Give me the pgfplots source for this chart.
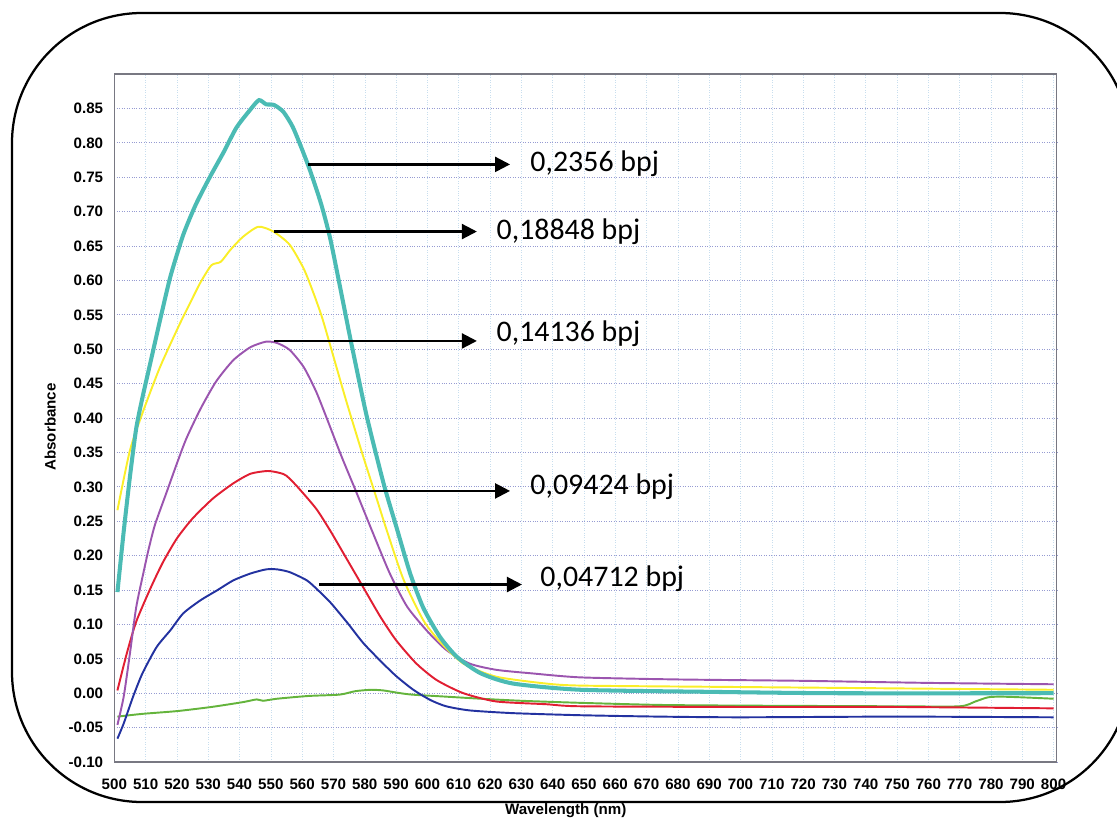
\documentclass[border=0pt]{standalone}
\usepackage{pgfplots}
\pgfplotsset{compat=1.18}
\usepackage{fontspec}
\setmainfont{Liberation Sans}
\newfontfamily\calibri{Carlito}
\usetikzlibrary{arrows.meta}

\definecolor{cteal}{RGB}{75,187,180}
\definecolor{cyellow}{RGB}{250,238,40}
\definecolor{cpurple}{RGB}{155,85,175}
\definecolor{cred}{RGB}{225,30,50}
\definecolor{cblue}{RGB}{35,50,160}
\definecolor{cgreen}{RGB}{100,180,60}
\definecolor{hgrid}{RGB}{150,155,210}
\definecolor{vgrid}{RGB}{200,222,238}
\definecolor{frame}{RGB}{120,120,130}

\begin{document}
\begin{tikzpicture}[x=0.2mm,y=-0.2mm]
\path[use as bounding box] (0,0) rectangle (1117,818);
\clip (0,0) rectangle (1117,818);
% rounded frame round the whole chart
\draw[line width=0.45mm, rounded corners=26mm] (12,13) rectangle (1130,802);

\begin{axis}[
    at={(22.86mm,-152.4mm)}, anchor=south west,
    scale only axis, width=188.48mm, height=137.6mm,
    xmin=500, xmax=801, ymin=-0.1, ymax=0.9,
    xtick={500,510,...,800},
    ytick={-0.10,-0.05,0,0.05,0.10,0.15,0.20,0.25,0.30,0.35,0.40,0.45,0.50,0.55,0.60,0.65,0.70,0.75,0.80,0.85},
    yticklabel style={/pgf/number format/fixed, /pgf/number format/fixed zerofill,
                      /pgf/number format/precision=2, xshift=-1mm},
    /pgf/number format/assume math mode=true,
    major tick length=0pt,
    grid=major,
    major x grid style={densely dotted, color=vgrid, line width=0.3pt},
    major y grid style={densely dotted, color=hgrid, line width=0.5pt},
    axis line style={draw=frame, line width=0.3mm},
    ticklabel style={font=\fontsize{8.6}{10}\selectfont\bfseries},
    xticklabel style={yshift=-2.2mm},
    xlabel={Wavelength (nm)}, ylabel={Absorbance},
    label style={font=\fontsize{8.6}{10}\selectfont\bfseries},
    xlabel style={at={(axis description cs:0.479,-0.07)}, anchor=center},
    ylabel style={at={(axis description cs:-0.068,0.487)}, anchor=center},
    every axis plot/.append style={smooth, tension=0.4},
]
% blank / reference
\addplot[cgreen, line width=1.1pt] coordinates {
(501,-0.034) (509,-0.030) (520,-0.026) (531,-0.020) (541,-0.013) (545.5,-0.009)
(547.5,-0.011) (552,-0.008) (562,-0.004) (572,-0.002) (577,0.003) (582,0.005)
(586,0.004) (590,0.001) (595,-0.002) (606,-0.005) (617,-0.008) (630,-0.011)
(649,-0.014) (674,-0.017) (700,-0.018) (750,-0.019) (770,-0.019) (775,-0.012)
(779,-0.006) (783,-0.005) (790,-0.006) (800,-0.008)};
% 0,04712 bpj
\addplot[cblue, line width=1.1pt] coordinates {
(501,-0.066) (503,-0.044) (506,-0.005) (509,0.029) (513.5,0.067) (518,0.092)
(522,0.116) (527.5,0.135) (533,0.150) (538,0.164) (543.5,0.174) (548.5,0.180)
(552,0.180) (556,0.176) (561.5,0.164) (565,0.150) (569,0.132) (574.5,0.102)
(579.5,0.073) (585,0.047) (590,0.025) (595.5,0.005) (601,-0.010) (606,-0.019)
(613.5,-0.025) (627.5,-0.029) (649,-0.032) (674,-0.034) (700,-0.035) (750,-0.034)
(800,-0.035)};
% 0,09424 bpj
\addplot[cred, line width=1.1pt] coordinates {
(501,0.004) (504,0.058) (507,0.104) (511.5,0.152) (515.5,0.190) (520,0.225)
(525,0.254) (531.5,0.283) (538,0.305) (543.5,0.319) (549,0.323) (553,0.320)
(555,0.316) (558.5,0.300) (564.5,0.268) (569,0.236) (574,0.197) (579.5,0.154)
(585,0.111) (590,0.077) (596.5,0.043) (603,0.019) (611.5,0.000) (622,-0.012)
(638,-0.016) (649,-0.019) (700,-0.020) (750,-0.020) (800,-0.022)};
% 0,14136 bpj
\addplot[cpurple, line width=1.1pt] coordinates {
(501,-0.046) (503,-0.005) (505,0.058) (507,0.125) (509.3,0.175) (511,0.21)
(513,0.245) (516.7,0.292) (520,0.334) (523,0.370) (527.5,0.413) (532.5,0.453)
(538,0.484) (543.5,0.503) (548.5,0.511) (552,0.509) (556,0.499) (560.5,0.474)
(564.5,0.438) (568,0.398) (572.5,0.345) (577.5,0.290) (582.5,0.234) (588,0.174)
(593.5,0.126) (600,0.090) (606,0.063) (613.5,0.043) (622,0.034) (633,0.029)
(649,0.023) (680,0.020) (720,0.018) (760,0.015) (800,0.013)};
% 0,18848 bpj
\addplot[cyellow, line width=1.1pt] coordinates {
(501,0.266) (505,0.353) (509.3,0.411) (514.6,0.474) (520,0.528) (522,0.547)
(524.2,0.567) (527.4,0.596) (531,0.622) (534,0.627) (537,0.644) (541,0.663)
(546,0.678) (550.8,0.671) (556,0.652) (560.5,0.617) (563.5,0.583) (566.3,0.547)
(569,0.505) (574,0.426) (579.5,0.344) (583.3,0.290) (587,0.237) (592.3,0.166)
(598.7,0.106) (604,0.075) (611.5,0.043) (622,0.024) (638,0.014) (650,0.011)
(700,0.009) (750,0.007) (800,0.005)};
% 0,2356 bpj
\addplot[cteal, line width=2.3pt] coordinates {
(501,0.147) (503,0.235) (505,0.315) (507,0.385) (509,0.430) (511,0.470)
(513,0.510) (515,0.550) (518,0.607) (522,0.666) (526,0.710) (530.5,0.750)
(535,0.787) (539,0.822) (543.4,0.848) (546.2,0.862) (548.5,0.856) (551,0.855)
(554,0.845) (557,0.823) (560,0.790) (562.5,0.760) (566,0.712) (569,0.660)
(573,0.570) (575.5,0.513) (580.5,0.405) (586,0.305) (590.2,0.240) (594.5,0.174)
(598.7,0.124) (604,0.082) (609.4,0.053) (617,0.029) (627.4,0.014) (649,0.005)
(690,0.002) (730,0.000) (800,0.000)};

% labels of the curves
\draw[line width=0.45mm, -{Triangle[length=3mm,width=3mm]}] (axis cs:562.0,0.7686) -- (axis cs:626.4,0.7686);
\draw[line width=0.45mm, -{Triangle[length=3mm,width=3mm]}] (axis cs:550.9,0.671) -- (axis cs:615.8,0.671);
\draw[line width=0.45mm, -{Triangle[length=3mm,width=3mm]}] (axis cs:550.9,0.512) -- (axis cs:615.8,0.512);
\draw[line width=0.45mm, -{Triangle[length=3mm,width=3mm]}] (axis cs:562.0,0.294) -- (axis cs:626.4,0.294);
\draw[line width=0.45mm, -{Triangle[length=3mm,width=3mm]}] (axis cs:565.5,0.158) -- (axis cs:630.2,0.158);
\begin{scope}[every node/.style={anchor=west, inner sep=0pt, font=\calibri\fontsize{17}{20}\selectfont}]
\node at (axis cs:632.8,0.770) {0,2356 bpj};
\node at (axis cs:622.0,0.671) {0,18848 bpj};
\node at (axis cs:622.0,0.522) {0,14136 bpj};
\node at (axis cs:632.8,0.300) {0,09424 bpj};
\node at (axis cs:636.0,0.167) {0,04712 bpj};
\end{scope}
\end{axis}
\end{tikzpicture}
\end{document}
